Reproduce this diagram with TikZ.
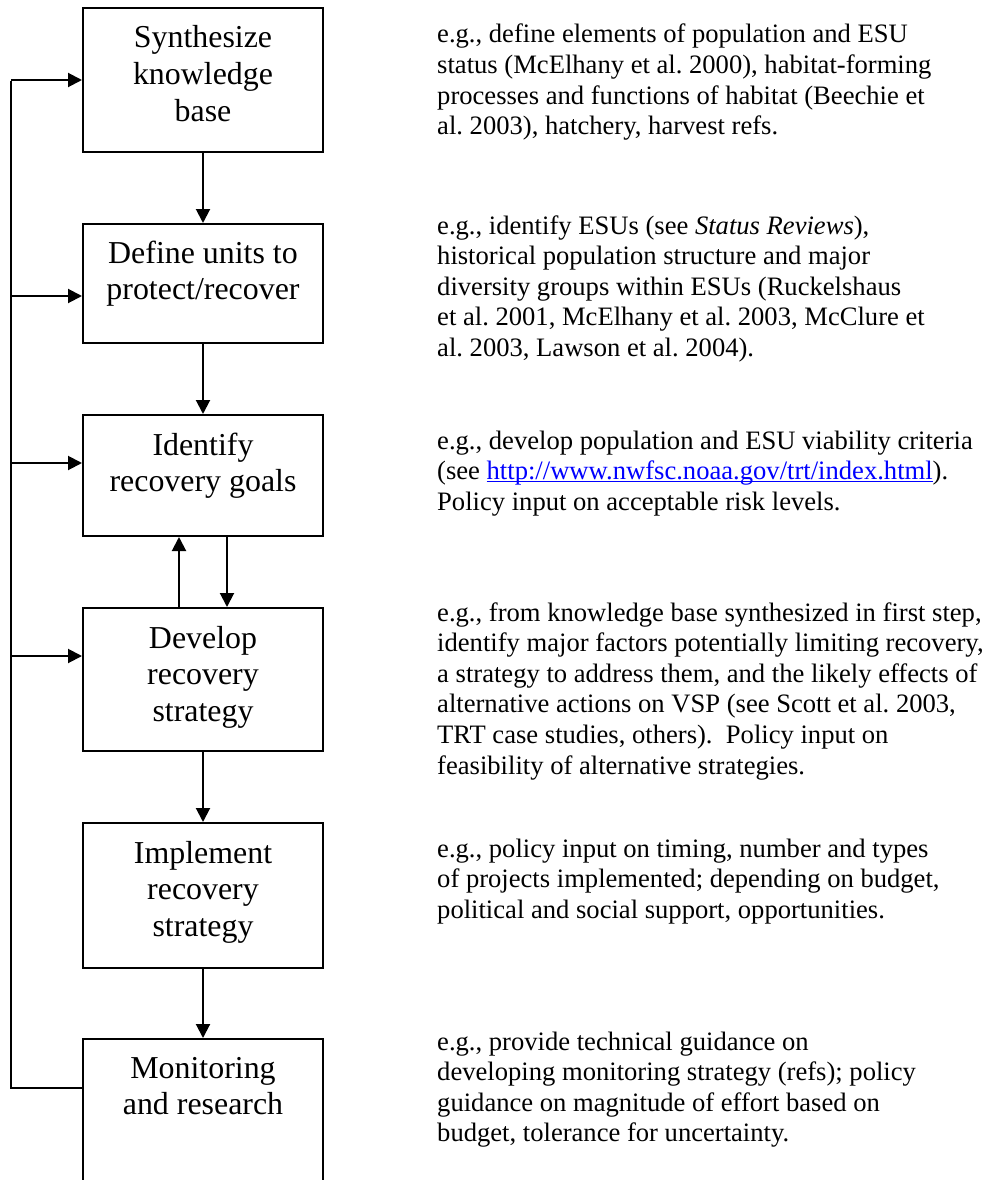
\documentclass[tikz,border=0pt]{standalone}
\usepackage{fontspec}
\setmainfont{Liberation Serif}
\usetikzlibrary{arrows.meta}
\newcommand\ntfont{\fontsize{26.6}{30.6}\selectfont}
\newcommand\bxfont{\fontsize{31.9}{36.6}\selectfont}
\newcommand\weblink[1]{\textcolor{blue}{\setbox0\hbox{#1}\rlap{\rule[-2.6pt]{\wd0}{1.6pt}}\box0}}
\frenchspacing
\begin{document}
\begin{tikzpicture}[x=1pt,y=-1pt,
  box/.style={draw, line width=2pt, rectangle, inner sep=0pt, minimum width=240pt},
  boxtext/.style={anchor=base, align=center, inner sep=0pt, font=\bxfont},
  note/.style={anchor=base west, align=left, inner sep=0pt, font=\ntfont},
  line/.style={line width=2pt},
  arr/.style={line width=2pt, -{Triangle[length=14pt,width=14pt]}}]
\useasboundingbox (0,0) rectangle (990,1180);
\clip (0,0) rectangle (990,1180);
% boxes
\node[box, minimum height=144pt] (b1) at (203,80) {};
\node[box, minimum height=119pt] (b2) at (203,283.5) {};
\node[box, minimum height=121pt] (b3) at (203,475.5) {};
\node[box, minimum height=143pt] (b4) at (203,679.5) {};
\node[box, minimum height=145pt] (b5) at (203,895.5) {};
\node[box, minimum height=191pt] (b6) at (203,1134.5) {};
% box texts (anchored at the baseline of the last line)
\node[boxtext] (t1) at (203,121.2) {Synthesize\\knowledge\\base};
\node[boxtext] (t2) at (203,299.6) {Define units to\\protect/recover};
\node[boxtext] (t3) at (203,491.6) {Identify\\recovery goals};
\node[boxtext] (t4) at (203,721.2) {Develop\\recovery\\strategy};
\node[boxtext] (t5) at (203,936.2) {Implement\\recovery\\strategy};
\node[boxtext] (t6) at (203,1114.6) {Monitoring\\and research};
% notes (anchored at the baseline of the last line)
\node[note] (n1) at (437,134.8) {e.g., define elements of population and ESU\\status (McElhany et al. 2000), habitat-forming\\processes and functions of habitat (Beechie et\\al. 2003), hatchery, harvest refs.};
\node[note] (n2) at (437,356.4) {e.g., identify ESUs (see \textit{Status Reviews}),\\historical population structure and major\\diversity groups within ESUs (Ruckelshaus\\et al. 2001, McElhany et al. 2003, McClure et\\al. 2003, Lawson et al. 2004).};
\node[note] (n3) at (437,510.2) {e.g., develop population and ESU viability criteria\\(see \weblink{http://www.nwfsc.noaa.gov/trt/index.html}).\\Policy input on acceptable risk levels.};
\node[note] (n4) at (437,774) {e.g., from knowledge base synthesized in first step,\\identify major factors potentially limiting recovery,\\a strategy to address them, and the likely effects of\\alternative actions on VSP (see Scott et al. 2003,\\TRT case studies, others).~ Policy input on\\feasibility of alternative strategies.};
\node[note] (n5) at (437,918.2) {e.g., policy input on timing, number and types\\of projects implemented; depending on budget,\\political and social support, opportunities.};
\node[note] (n6) at (437,1141.8) {e.g., provide technical guidance on\\developing monitoring strategy (refs); policy\\guidance on magnitude of effort based on\\budget, tolerance for uncertainty.};
% main flow
\draw[arr] (b1.south) -- (b2.north);
\draw[arr] (b2.south) -- (b3.north);
\coordinate (upx) at (179,0);
\coordinate (dnx) at (227,0);
\draw[arr] (b4.north -| upx) -- (b3.south -| upx);
\draw[arr] (b3.south -| dnx) -- (b4.north -| dnx);
\draw[arr] (b4.south) -- (b5.north);
\draw[arr] (b5.south) -- (b6.north);
% feedback loop
\coordinate (ret) at (11,1088);
\coordinate (l1) at (11,80);
\coordinate (l2) at (11,296);
\coordinate (l3) at (11,463);
\coordinate (l4) at (11,656);
\draw[line] (b6.west |- ret) -- (ret) -- ([yshift=-1pt]l1);
\draw[arr] (l1) -- (b1.west |- l1);
\draw[arr] (l2) -- (b2.west |- l2);
\draw[arr] (l3) -- (b3.west |- l3);
\draw[arr] (l4) -- (b4.west |- l4);
\end{tikzpicture}
\end{document}
